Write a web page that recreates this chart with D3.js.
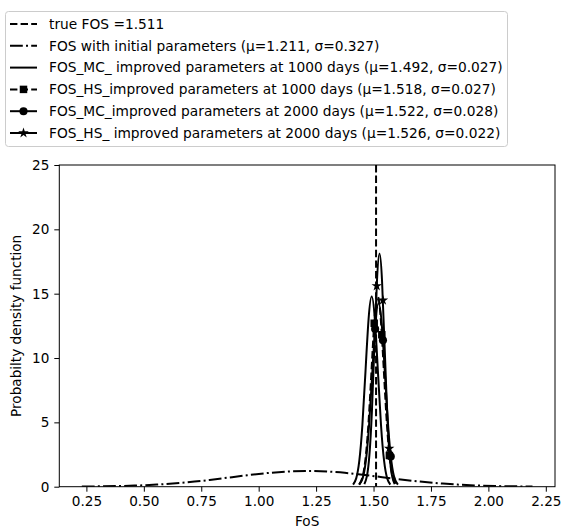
<!DOCTYPE html>
<html>
<head>
  <meta charset="utf-8">
  <title>FoS probability density</title>
  <script src="https://d3js.org/d3.v7.min.js"></script>
  <style>
    html, body {
      margin: 0;
      padding: 0;
      background: #fff;
    }
    text {
      font-family: "DejaVu Sans", sans-serif;
      font-size: 13.6px;
      fill: #000;
    }
    .curve {
      fill: none;
      stroke: #000;
      stroke-width: 2;
    }
  </style>
</head>
<body>
  <svg id="chart" width="564" height="531"></svg>

  <script>
    // values (x = FoS, y = pdf)
    var trueFos = 1.511;

    var initX = [0.230, 0.394, 0.557, 0.721, 0.884, 1.048, 1.211, 1.375, 1.538, 1.702, 1.865, 2.029, 2.192];
    var initY = [0.014, 0.054, 0.165, 0.396, 0.740, 1.077, 1.220, 1.077, 0.740, 0.396, 0.165, 0.054, 0.014];

    var mc1000X = [1.411, 1.4245, 1.438, 1.4515, 1.465, 1.4785, 1.492, 1.5055, 1.519, 1.5325, 1.546, 1.5595, 1.573];
    var mc1000Y = [0.16, 0.65, 2.00, 4.80, 8.96, 13.04, 14.78, 13.04, 8.96, 4.80, 2.00, 0.65, 0.16];

    var hs1000X = [1.437, 1.4505, 1.464, 1.4775, 1.491, 1.5045, 1.518, 1.5315, 1.545, 1.5585, 1.572, 1.5855, 1.599];
    var hs1000Y = [0.16, 0.65, 2.00, 4.80, 8.96, 13.04, 14.78, 13.04, 8.96, 4.80, 2.00, 0.65, 0.16];

    var mc2000X = [1.438, 1.452, 1.466, 1.480, 1.494, 1.508, 1.522, 1.536, 1.550, 1.564, 1.578, 1.592, 1.606];
    var mc2000Y = [0.16, 0.63, 1.93, 4.63, 8.64, 12.57, 14.25, 12.57, 8.64, 4.63, 1.93, 0.63, 0.16];

    var hs2000X = [1.460, 1.471, 1.482, 1.493, 1.504, 1.515, 1.526, 1.537, 1.548, 1.559, 1.570, 1.581, 1.592];
    var hs2000Y = [0.20, 0.80, 2.45, 5.89, 11.00, 16.00, 18.13, 16.00, 11.00, 5.89, 2.45, 0.80, 0.20];

    // marker positions
    var hs1000MarkX = [1.503, 1.536, 1.569];
    var hs1000MarkY = [12.71, 11.81, 2.42];
    var mc2000MarkX = [1.507, 1.541, 1.575];
    var mc2000MarkY = [12.25, 11.38, 2.34];
    var hs2000MarkX = [1.514, 1.541, 1.568];
    var hs2000MarkY = [15.60, 14.49, 2.97];

    var xTicks = [0.25, 0.50, 0.75, 1.00, 1.25, 1.50, 1.75, 2.00, 2.25];
    var yTicks = [0, 5, 10, 15, 20, 25];

    var legendLabels = [
      "true FOS =1.511",
      "FOS with initial parameters (\u03bc=1.211, \u03c3=0.327)",
      "FOS_MC_ improved parameters at 1000 days (\u03bc=1.492, \u03c3=0.027)",
      "FOS_HS_improved parameters at 1000 days (\u03bc=1.518, \u03c3=0.027)",
      "FOS_MC_improved parameters at 2000 days (\u03bc=1.522, \u03c3=0.028)",
      "FOS_HS_ improved parameters at 2000 days (\u03bc=1.526, \u03c3=0.022)"
    ];

    const pLeft = 59.3, pRight = 555, pTop = 165, pBottom = 486.7;
    const DASH = "7.4,3.2";
    const DASHDOT = "12.8,3.2,2,3.2";

    var svg = d3.select("#chart");

    var x = d3.scaleLinear().domain([0.132, 2.290]).range([pLeft, pRight]);
    var y = d3.scaleLinear().domain([0, 25]).range([pBottom, pTop]);

    var plot = svg.append("g");
    plot.append("clipPath").attr("id", "clip")
      .append("rect")
      .attr("x", pLeft).attr("y", pTop)
      .attr("width", pRight - pLeft).attr("height", pBottom - pTop);

    var curves = plot.append("g").attr("clip-path", "url(#clip)");

    var line = d3.line()
      .x(d => x(d[0]))
      .y(d => y(d[1]))
      .curve(d3.curveNatural);

    function zip(a, b) { return a.map((v, i) => [v, b[i]]); }

    var series = [
      { xs: initX, ys: initY, dash: DASHDOT },
      { xs: mc1000X, ys: mc1000Y, dash: null },
      { xs: hs1000X, ys: hs1000Y, dash: DASH },
      { xs: mc2000X, ys: mc2000Y, dash: null },
      { xs: hs2000X, ys: hs2000Y, dash: null }
    ];

    curves.selectAll("path.curve")
      .data(series)
      .join("path")
      .attr("class", "curve")
      .attr("stroke-dasharray", d => d.dash)
      .attr("d", d => line(zip(d.xs, d.ys)));

    // true FOS vertical line
    curves.append("line")
      .attr("x1", x(trueFos)).attr("x2", x(trueFos))
      .attr("y1", pTop).attr("y2", pBottom)
      .attr("stroke", "#000")
      .attr("stroke-width", 2)
      .attr("stroke-dasharray", DASH);

    // markers
    var square = d3.symbol().type(d3.symbolSquare).size(56);
    var circle = d3.symbol().type(d3.symbolCircle).size(52);
    var star = d3.symbol().type(d3.symbolStar).size(34);

    function drawMarkers(g, xs, ys, sym) {
      g.selectAll(null)
        .data(zip(xs, ys))
        .join("path")
        .attr("d", sym)
        .attr("fill", "#000")
        .attr("transform", d => "translate(" + x(d[0]) + "," + y(d[1]) + ")");
    }
    drawMarkers(curves.append("g"), hs1000MarkX, hs1000MarkY, square);
    drawMarkers(curves.append("g"), mc2000MarkX, mc2000MarkY, circle);
    drawMarkers(curves.append("g"), hs2000MarkX, hs2000MarkY, star);

    // axes
    var xAxis = svg.append("g")
      .attr("transform", "translate(0," + pBottom + ")")
      .call(d3.axisBottom(x).tickValues(xTicks).tickFormat(d3.format(".2f")).tickSizeOuter(0).tickSize(5).tickPadding(5));
    var yAxis = svg.append("g")
      .attr("transform", "translate(" + pLeft + ",0)")
      .call(d3.axisLeft(y).tickValues(yTicks).tickFormat(d3.format("d")).tickSizeOuter(0).tickSize(5).tickPadding(5));

    [xAxis, yAxis].forEach(a => {
      a.select(".domain").remove();
      a.selectAll(".tick line").attr("stroke", "#000").attr("stroke-width", 1);
      a.selectAll(".tick text").style("font-family", "DejaVu Sans").style("font-size", "13.6px").attr("fill", "#000");
    });

    // frame
    svg.append("rect")
      .attr("x", pLeft).attr("y", pTop)
      .attr("width", pRight - pLeft).attr("height", pBottom - pTop)
      .attr("fill", "none")
      .attr("stroke", "#000")
      .attr("stroke-width", 1);

    svg.append("text")
      .attr("x", (pLeft + pRight) / 2)
      .attr("y", 526)
      .attr("text-anchor", "middle")
      .text("FoS");

    svg.append("text")
      .attr("transform", "translate(21," + ((pTop + pBottom) / 2) + ") rotate(-90)")
      .attr("text-anchor", "middle")
      .text("Probabilty density function");

    // legend
    var legend = svg.append("g");
    legend.append("rect")
      .attr("x", 5.5).attr("y", 11.5)
      .attr("width", 502).attr("height", 135)
      .attr("rx", 3)
      .attr("fill", "#fff")
      .attr("fill-opacity", 0.8)
      .attr("stroke", "#ccc");

    var rowY = d3.scaleLinear().domain([0, 5]).range([24, 133]);
    var handles = [
      { dash: DASH, sym: null },
      { dash: DASHDOT, sym: null },
      { dash: null, sym: null },
      { dash: DASH, sym: square },
      { dash: null, sym: circle },
      { dash: null, sym: star }
    ];

    var rows = legend.selectAll("g.row")
      .data(legendLabels)
      .join("g")
      .attr("class", "row")
      .attr("transform", (d, i) => "translate(0," + rowY(i) + ")");

    rows.append("line")
      .attr("x1", 10).attr("x2", 37)
      .attr("stroke", "#000")
      .attr("stroke-width", 2)
      .attr("stroke-dasharray", (d, i) => handles[i].dash);

    rows.each(function(d, i) {
      if (handles[i].sym) {
        d3.select(this).append("path")
          .attr("d", handles[i].sym())
          .attr("transform", "translate(23.5,0)")
          .attr("fill", "#000");
      }
    });

    rows.append("text")
      .attr("x", 49)
      .attr("dy", "0.35em")
      .style("font-size", "13.75px")
      .text(d => d);
  </script>
</body>
</html>
